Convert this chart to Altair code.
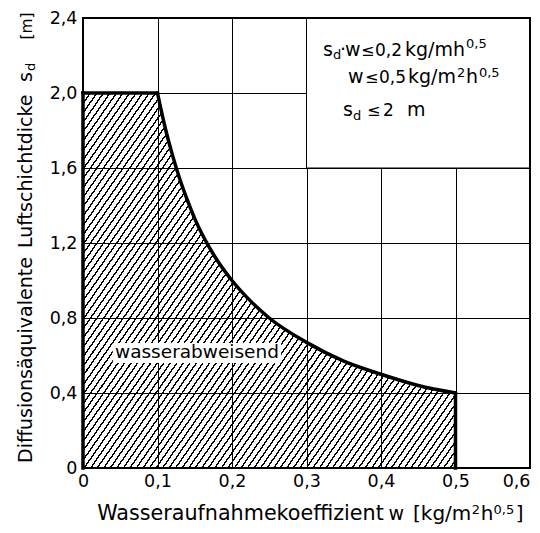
import altair as alt
import pandas as pd

FONT = "DejaVu Sans"

# ---- data ----
# limit curve  s_d * w = 0.2
W_CURVE = [0.1, 0.11, 0.12, 0.13, 0.14, 0.15, 0.175, 0.2, 0.225, 0.25, 0.3, 0.35, 0.4, 0.45, 0.5]
SD_CURVE = [2.0, 1.82, 1.67, 1.54, 1.43, 1.33, 1.14, 1.0, 0.89, 0.8, 0.67, 0.57, 0.5, 0.44, 0.4]
W_FLAT = [0.0, 0.1]          # s_d <= 2 m plateau
SD_MAX = 2.0
W_MAX = 0.5                  # w <= 0.5
SD_AT_WMAX = 0.4

X_TICKS = [0, 0.1, 0.2, 0.3, 0.4, 0.5, 0.6]
Y_TICKS = [0, 0.4, 0.8, 1.2, 1.6, 2.0, 2.4]

# annotation boxes (data units)
RBOX_W = [0.3, 0.6]
RBOX_SD = [1.6, 2.4]
LBOX_W = [0.040, 0.266]
LBOX_SD = [0.56, 0.667]

# text in the top-right box
BOX_TEXT = ["s", "d", "·", "w", "≤", "0,2", "kg/mh", "0,5",
            "w", "≤", "0,5", "kg/m", "2", "h", "0,5",
            "s", "d", "≤", "2", "m"]
BOX_W = [0.3221, 0.3356, 0.3450, 0.3517, 0.3732, 0.3919, 0.4322, 0.5141,
         0.3557, 0.3785, 0.3973, 0.4362, 0.5020, 0.5141, 0.5315,
         0.3490, 0.3624, 0.3812, 0.4027, 0.4349]
BOX_SD = [2.197, 2.181, 2.197, 2.197, 2.197, 2.197, 2.197, 2.24,
          2.053, 2.053, 2.053, 2.053, 2.085, 2.053, 2.085,
          1.877, 1.856, 1.877, 1.877, 1.877]
BOX_FS = [19, 13, 19, 19, 16, 17, 19, 13,
          19, 16, 17, 19, 13, 19, 13,
          19, 13, 16, 17, 19]

# x-axis title pieces
XT_TEXT = ["Wasseraufnahmekoeffizient", "w", "[kg/m", "2", "h", "0,5", "]"]
XT_W = [0.019, 0.410, 0.4430, 0.5218, 0.5339, 0.5510, 0.5809]
XT_SD = [-0.277, -0.277, -0.277, -0.245, -0.277, -0.245, -0.277]
XT_FS = [20.7, 19, 20, 13, 20, 13, 20]

# y-axis title pieces (rotated)
YT_TEXT = ["Diffusionsäquivalente", "Luftschichtdicke", "s", "d", "[m]"]
YT_W = [-0.0685, -0.0685, -0.0685, -0.0644, -0.0685]
YT_SD = [0.027, 1.173, 2.059, 2.117, 2.285]
YT_FS = [19, 19, 19, 13, 15.5]

LABEL_TEXT = ["wasserabweisend"]
LABEL_W = [0.153]
LABEL_SD = [0.587]

# ---- tables ----
area_df = pd.DataFrame({"w": [W_FLAT[0]] + W_CURVE, "sd": [SD_MAX] + SD_CURVE})
curve_df = pd.DataFrame({"w": W_CURVE, "sd": SD_CURVE})
hrule_df = pd.DataFrame({"w": [W_FLAT[0]], "w2": [W_FLAT[1]], "sd": [SD_MAX]})
vrule_df = pd.DataFrame({"w": [W_FLAT[0], W_MAX], "sd": [0.0, 0.0], "sd2": [SD_MAX, SD_AT_WMAX]})
rbox_df = pd.DataFrame({"w": [RBOX_W[0]], "w2": [RBOX_W[1]], "sd": [RBOX_SD[0]], "sd2": [RBOX_SD[1]]})
lbox_df = pd.DataFrame({"w": [LBOX_W[0]], "w2": [LBOX_W[1]], "sd": [LBOX_SD[0]], "sd2": [LBOX_SD[1]]})
frame_df = pd.DataFrame({"w": [X_TICKS[0]], "w2": [X_TICKS[-1]], "sd": [Y_TICKS[0]], "sd2": [Y_TICKS[-1]]})
box_df = pd.DataFrame({"t": BOX_TEXT, "w": BOX_W, "sd": BOX_SD, "fs": BOX_FS})
xt_df = pd.DataFrame({"t": XT_TEXT, "w": XT_W, "sd": XT_SD, "fs": XT_FS})
yt_df = pd.DataFrame({"t": YT_TEXT, "w": YT_W, "sd": YT_SD, "fs": YT_FS})
lab_df = pd.DataFrame({"t": LABEL_TEXT, "w": LABEL_W, "sd": LABEL_SD})

# ---- scales / axes ----
XS = alt.Scale(domain=[X_TICKS[0], X_TICKS[-1]], nice=False, zero=False)
YS = alt.Scale(domain=[Y_TICKS[0], Y_TICKS[-1]], nice=False, zero=False)
LABEL_EXPR = "datum.value == 0 ? '0' : replace(format(datum.value, '.1f'), '.', ',')"
XA = alt.Axis(values=X_TICKS, labelExpr=LABEL_EXPR, title="", grid=True, gridColor="black",
              gridWidth=1, gridOpacity=1, domain=False, ticks=False, labelFont=FONT,
              labelFontSize=17.5, labelColor="black", labelPadding=4,
              labelAlign={"condition": {"test": "datum.value >= 0.59", "value": "right"},
                          "value": "center"})
YA = alt.Axis(values=Y_TICKS, labelExpr=LABEL_EXPR, title="", grid=True, gridColor="black",
              gridWidth=1, gridOpacity=1, domain=False, ticks=False, labelFont=FONT,
              labelFontSize=17.5, labelColor="black", labelPadding=6)


def X(f):
    return alt.X(f, type="quantitative", scale=XS, axis=XA)


def Y(f):
    return alt.Y(f, type="quantitative", scale=YS, axis=YA)


# ---- hatch pattern as a striped gradient ----
N_STRIPES = 97
per = 1.0 / N_STRIPES
wid = 1.4 / 522.0
stops = []
for i in range(N_STRIPES):
    a = i * per
    b = min(a + wid, 1.0)
    c = min(a + per, 1.0)
    stops += [
        alt.GradientStop(offset=a, color="black"),
        alt.GradientStop(offset=b, color="black"),
        alt.GradientStop(offset=b, color="rgba(255,255,255,0)"),
        alt.GradientStop(offset=c, color="rgba(255,255,255,0)"),
    ]
hatch = alt.LinearGradient(gradient="linear", stops=stops, x1=0, y1=0, x2=1.141, y2=0.8)

area = alt.Chart(area_df).mark_area(fill=hatch, interpolate="linear").encode(x=X("w"), y=Y("sd"))

rbox = alt.Chart(rbox_df).mark_rect(fill="white", stroke="black", strokeWidth=1).encode(
    x=X("w"), x2="w2", y=Y("sd"), y2="sd2")
lbox = alt.Chart(lbox_df).mark_rect(fill="white").encode(x=X("w"), x2="w2", y=Y("sd"), y2="sd2")

curve = alt.Chart(curve_df).mark_line(color="black", strokeWidth=3.5, interpolate="monotone",
                                      strokeCap="round").encode(x=X("w"), y=Y("sd"))
hrule = alt.Chart(hrule_df).mark_rule(color="black", strokeWidth=3.5, strokeCap="square").encode(
    x=X("w"), x2="w2", y=Y("sd"))
vrule = alt.Chart(vrule_df).mark_rule(color="black", strokeWidth=3.5, strokeCap="square").encode(
    x=X("w"), y=Y("sd"), y2="sd2")

frame = alt.Chart(frame_df).mark_rect(filled=False, stroke="black", strokeWidth=2).encode(
    x=X("w"), x2="w2", y=Y("sd"), y2="sd2")

box_text = alt.Chart(box_df).mark_text(align="left", baseline="alphabetic", font=FONT,
                                       color="black").encode(
    x=X("w"), y=Y("sd"), text="t:N", size=alt.Size("fs:Q", scale=None, legend=None))
xt_text = alt.Chart(xt_df).mark_text(align="left", baseline="alphabetic", font=FONT,
                                     color="black").encode(
    x=X("w"), y=Y("sd"), text="t:N", size=alt.Size("fs:Q", scale=None, legend=None))
yt_text = alt.Chart(yt_df).mark_text(align="left", baseline="alphabetic", font=FONT,
                                     color="black", angle=270).encode(
    x=X("w"), y=Y("sd"), text="t:N", size=alt.Size("fs:Q", scale=None, legend=None))
lab_text = alt.Chart(lab_df).mark_text(align="center", baseline="alphabetic", font=FONT,
                                       fontSize=18.5, color="black").encode(
    x=X("w"), y=Y("sd"), text="t:N")

chart = alt.layer(area, lbox, rbox, curve, hrule, vrule, frame, box_text, xt_text, yt_text,
                  lab_text).properties(
    width=447, height=450, autosize="none",
    padding={"left": 75, "top": 10, "right": 2, "bottom": 57},
).configure_view(stroke=None)

chart.save("out.html", embed_options={"renderer": "svg", "actions": False})
